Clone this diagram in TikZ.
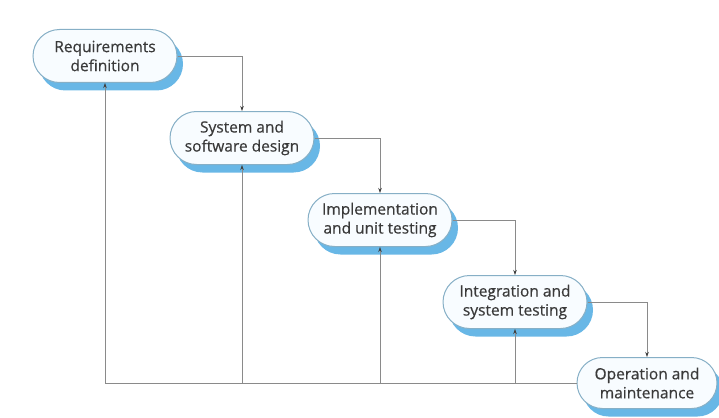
\documentclass[tikz,border=0pt]{standalone}
\usepackage{fontspec}
\setmainfont{Open Sans}
\newfontfamily\boxfont{Open Sans}[FakeBold=0.5]
\usetikzlibrary{shapes.misc,shadows,arrows.meta}
\definecolor{boxline}{HTML}{86AFC6}
\definecolor{shadowblue}{HTML}{68B7E6}
\definecolor{boxfill}{HTML}{F8FCFF}
\definecolor{txt}{HTML}{3A3A3A}
\definecolor{conn}{HTML}{8A8A8A}
\tikzset{
  phase/.style={rounded rectangle, draw=boxline, line width=1pt, fill=boxfill,
    minimum width=146pt, minimum height=53pt, inner sep=1pt, align=center,
    text=txt, font=\boxfont\fontsize{15.5pt}{19pt}\selectfont,
    drop shadow={shadow xshift=6pt, shadow yshift=-8pt, fill=shadowblue, opacity=1}},
  link/.style={draw=conn, line width=0.6pt, -{Stealth[length=5pt,width=3.5pt,color=black!75]}},
  plain/.style={draw=conn, line width=0.6pt}
}
\begin{document}
\begin{tikzpicture}[x=1pt,y=-1pt]
\useasboundingbox (0,0) rectangle (719,417);
\node[phase] (b1) at (105,56) {Requirements\\definition};
\node[phase] (b2) at (242,138) {System and\\software design};
\node[phase] (b3) at (380,220) {Implementation\\and unit testing};
\node[phase] (b4) at (515,302) {Integration and\\system testing};
\node[phase, minimum width=142pt, minimum height=51pt] (b5) at (647,383) {Operation and\\maintenance};
\coordinate (c1) at (b1.south |- b5.west);
\coordinate (c2) at (b2.south |- b5.west);
\coordinate (c3) at (b3.south |- b5.west);
\coordinate (c4) at (b4.south |- b5.west);
\draw[link] (b1.east) -| (b2.north);
\draw[link] (b2.east) -| (b3.north);
\draw[link] (b3.east) -| (b4.north);
\draw[link] (b4.east) -| (b5.north);
\draw[plain] (c1) -- (b5.west);
\draw[link] (c1) -- (b1.south);
\draw[link] (c2) -- (b2.south);
\draw[link] (c3) -- (b3.south);
\draw[link] (c4) -- (b4.south);
\end{tikzpicture}
\end{document}
